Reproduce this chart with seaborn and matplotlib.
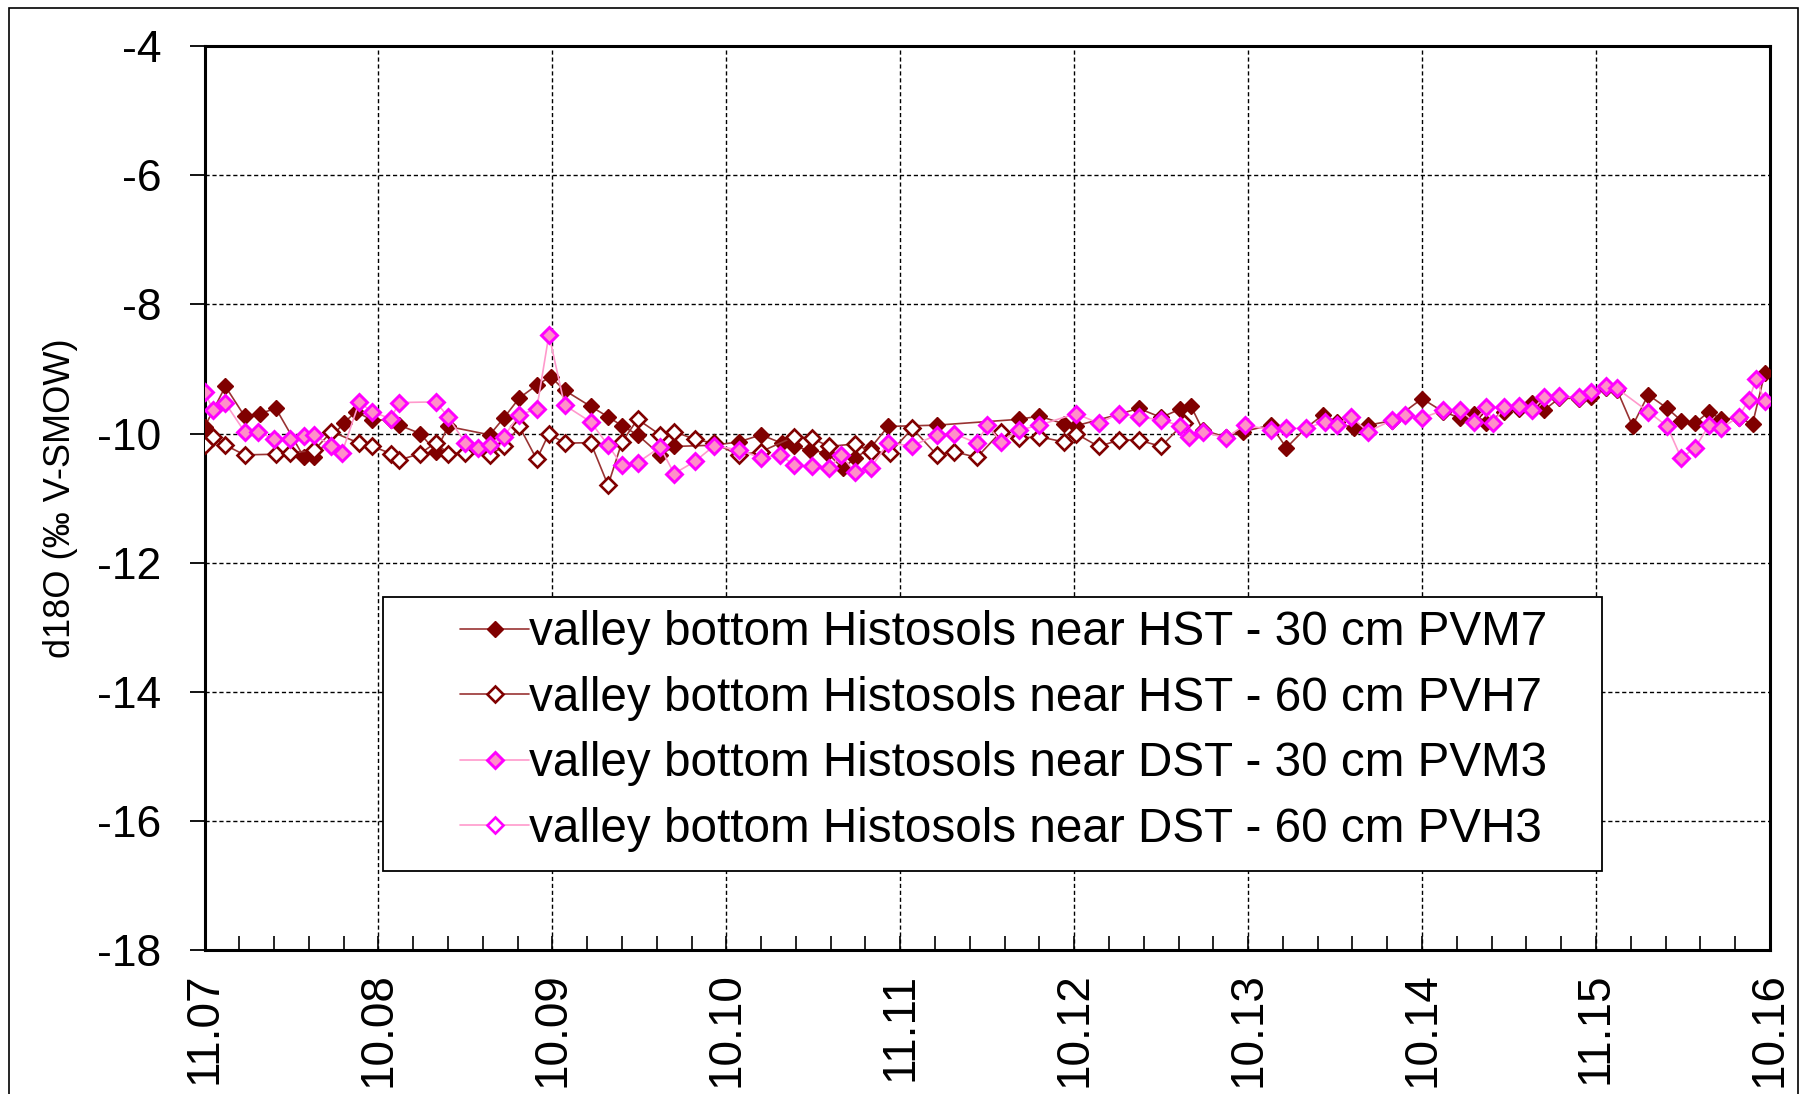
import matplotlib
matplotlib.use("Agg")
import matplotlib.pyplot as plt
import seaborn as sns
from matplotlib.ticker import MultipleLocator, FixedLocator, FixedFormatter
from matplotlib.patches import Rectangle

# Sampling time in years after the first campaign (Nov 2007) and d18O values
t_pvm7 = [0.00, 0.12, 0.23, 0.32, 0.41, 0.57, 0.63, 0.80, 0.87, 0.96, 1.07, 1.12,
          1.24, 1.33, 1.40, 1.64, 1.72, 1.81, 1.91, 1.99, 2.07, 2.22, 2.32, 2.40,
          2.49, 2.62, 2.70, 2.93, 3.07, 3.20, 3.32, 3.39, 3.48, 3.58, 3.67, 3.74,
          3.83, 3.93, 4.21, 4.68, 4.80, 4.94, 5.01, 5.26, 5.37, 5.50, 5.61, 5.67,
          5.74, 5.87, 5.97, 6.13, 6.22, 6.33, 6.43, 6.51, 6.61, 6.69, 6.83, 7.00,
          7.12, 7.22, 7.30, 7.37, 7.47, 7.56, 7.63, 7.70, 7.79, 7.90, 7.97, 8.06,
          8.12, 8.21, 8.30, 8.41, 8.49, 8.57, 8.65, 8.72, 8.82, 8.90, 8.97]
d_pvm7 = [-9.90, -9.27, -9.73, -9.69, -9.61, -10.36, -10.36, -9.84, -9.66, -9.79, -9.79, -9.87,
          -10.00, -10.28, -9.89, -10.02, -9.76, -9.45, -9.25, -9.12, -9.33, -9.58, -9.74, -9.88,
          -10.02, -10.33, -10.20, -10.18, -10.13, -10.02, -10.15, -10.20, -10.26, -10.30, -10.54, -10.38,
          -10.22, -9.89, -9.87, -9.78, -9.73, -9.85, -9.88, -9.70, -9.61, -9.75, -9.62, -9.57,
          -9.95, -10.05, -9.97, -9.87, -10.22, -9.92, -9.71, -9.82, -9.92, -9.87, -9.80, -9.46,
          -9.66, -9.76, -9.69, -9.84, -9.66, -9.62, -9.52, -9.64, -9.45, -9.46, -9.43, -9.30,
          -9.32, -9.88, -9.40, -9.61, -9.80, -9.84, -9.66, -9.78, -9.76, -9.85, -9.07]

t_pvh7 = [0.00, 0.05, 0.12, 0.23, 0.41, 0.49, 0.63, 0.73, 0.89, 0.96, 1.07, 1.12,
          1.24, 1.33, 1.40, 1.50, 1.64, 1.72, 1.81, 1.91, 1.98, 2.07, 2.22, 2.32,
          2.40, 2.49, 2.62, 2.70, 2.82, 2.93, 3.07, 3.20, 3.39, 3.49, 3.59, 3.74,
          3.83, 3.94, 4.07, 4.21, 4.31, 4.44, 4.58, 4.68, 4.80, 4.94, 5.01, 5.14,
          5.26, 5.37, 5.50, 5.63]
d_pvh7 = [-10.18, -10.05, -10.18, -10.33, -10.32, -10.30, -10.26, -9.97, -10.15, -10.19, -10.31, -10.41,
          -10.31, -10.14, -10.31, -10.30, -10.33, -10.20, -9.89, -10.40, -10.00, -10.15, -10.14, -10.80,
          -10.13, -9.78, -10.02, -9.97, -10.09, -10.15, -10.33, -10.28, -10.05, -10.07, -10.20, -10.16,
          -10.28, -10.30, -9.92, -10.33, -10.28, -10.37, -9.97, -10.07, -10.05, -10.13, -10.00, -10.20,
          -10.10, -10.10, -10.20, -9.84]

t_pvm3 = [0.00, 0.05, 0.12, 0.23, 0.31, 0.40, 0.49, 0.57, 0.63, 0.73, 0.79, 0.89,
          0.96, 1.07, 1.12, 1.33, 1.40, 1.50, 1.57, 1.64, 1.72, 1.81, 1.91, 1.98,
          2.07, 2.22, 2.32, 2.40, 2.49, 2.62, 2.70, 2.82, 2.93, 3.07, 3.20, 3.31,
          3.39, 3.49, 3.59, 3.66, 3.74, 3.83, 3.93, 4.07, 4.21, 4.31, 4.44, 4.50,
          4.58, 4.68, 4.80, 5.01, 5.14, 5.26, 5.37, 5.50, 5.61, 5.66, 5.74, 5.87,
          5.98, 6.13, 6.22, 6.33, 6.44, 6.51, 6.59, 6.69, 6.83, 6.90, 7.00, 7.12,
          7.22, 7.30, 7.37, 7.41, 7.47, 7.56, 7.63, 7.70, 7.79, 7.90, 7.97, 8.06,
          8.12, 8.30, 8.41, 8.49, 8.57, 8.65, 8.72, 8.82, 8.88, 8.92, 8.97]
d_pvm3 = [-9.35, -9.64, -9.53, -9.97, -9.97, -10.09, -10.09, -10.04, -10.02, -10.19, -10.30, -9.51,
          -9.66, -9.77, -9.52, -9.51, -9.74, -10.15, -10.23, -10.18, -10.05, -9.71, -9.62, -8.47,
          -9.56, -9.82, -10.18, -10.49, -10.45, -10.21, -10.62, -10.43, -10.19, -10.25, -10.38, -10.33,
          -10.49, -10.51, -10.54, -10.33, -10.60, -10.53, -10.15, -10.19, -10.02, -10.00, -10.15, -9.87,
          -10.13, -9.95, -9.87, -9.69, -9.84, -9.69, -9.74, -9.79, -9.88, -10.05, -9.97, -10.07,
          -9.87, -9.94, -9.92, -9.92, -9.82, -9.87, -9.74, -9.97, -9.79, -9.71, -9.76, -9.64,
          -9.64, -9.82, -9.59, -9.84, -9.59, -9.57, -9.64, -9.44, -9.42, -9.44, -9.35, -9.27,
          -9.30, -9.66, -9.89, -10.38, -10.22, -9.87, -9.92, -9.74, -9.48, -9.16, -9.49]

t_pvh3 = []
d_pvh3 = []

labels = [
    "valley bottom Histosols near HST - 30 cm PVM7",
    "valley bottom Histosols near HST - 60 cm PVH7",
    "valley bottom Histosols near DST - 30 cm PVM3",
    "valley bottom Histosols near DST - 60 cm PVH3",
]

x_tick_labels = ["11.07", "10.08", "10.09", "10.10", "11.11",
                 "10.12", "10.13", "10.14", "11.15", "10.16"]

sns.set_theme(style="white")
plt.rcParams['font.family'] = ['Liberation Sans', 'DejaVu Sans']
plt.rcParams['axes.unicode_minus'] = False
plt.rcParams['text.color'] = 'black'
plt.rcParams['axes.labelcolor'] = 'black'

fig = plt.figure(figsize=(18.02, 10.94), dpi=100)
ax = fig.add_axes([0.1135, 0.1313, 0.8687, 0.8267])
ax.set_facecolor("white")

ms = 8.6
sns.lineplot(x=t_pvm7, y=d_pvm7, ax=ax, sort=False, estimator=None,
             color="#993333", linewidth=1.2, marker="D", markersize=ms,
             markerfacecolor="#800000", markeredgecolor="#800000",
             markeredgewidth=1.0, label=labels[0], zorder=3)
sns.lineplot(x=t_pvh7, y=d_pvh7, ax=ax, sort=False, estimator=None,
             color="#993333", linewidth=1.2, marker="D", markersize=ms,
             markerfacecolor="white", markeredgecolor="#800000",
             markeredgewidth=1.9, label=labels[1], zorder=3)
sns.lineplot(x=t_pvm3, y=d_pvm3, ax=ax, sort=False, estimator=None,
             color="#FF99CC", linewidth=1.2, marker="D", markersize=ms,
             markerfacecolor="#FF8FC8", markeredgecolor="#FF00FF",
             markeredgewidth=2.1, label=labels[2], zorder=3)
ax.plot(t_pvh3, d_pvh3, color="#FF99CC", linewidth=1.2, marker="D", markersize=ms,
        markerfacecolor="white", markeredgecolor="#FF00FF", markeredgewidth=1.9,
        label=labels[3], zorder=3)

ax.set_xlim(0, 9)
ax.set_ylim(-18, -4)
ax.yaxis.set_major_locator(MultipleLocator(2))
ax.xaxis.set_major_locator(FixedLocator(range(len(x_tick_labels))))
ax.xaxis.set_major_formatter(FixedFormatter(x_tick_labels))
ax.xaxis.set_minor_locator(MultipleLocator(0.2))

ax.grid(True, which="major", color="black", linestyle=(0, (3, 2)), linewidth=1.0)
for s in ax.spines.values():
    s.set_color("black")
    s.set_linewidth(2.2)
    s.set_visible(True)

ax.tick_params(axis="y", which="major", direction="out", length=11, width=1.3,
               pad=20, labelsize=32, colors="black", left=True)
ax.tick_params(axis="x", which="both", direction="in", length=10, width=1.2,
               bottom=True, colors="black")
ax.tick_params(axis="x", which="major", pad=16, labelsize=33, labelrotation=90)
for lab in ax.get_xticklabels():
    lab.set_verticalalignment("top")

ax.set_xlabel("")
ax.set_ylabel("d18O (‰ V-SMOW)", fontsize=26, color="black")
ax.yaxis.set_label_coords(-0.081, 0.5)

# Legend box
ax.add_patch(Rectangle((0.1138, 0.0878), 0.7792, 0.3032, transform=ax.transAxes,
                       facecolor="white", edgecolor="black", linewidth=1.3, zorder=4))
handles, labs = ax.get_legend_handles_labels()
leg = ax.legend(handles, labs, loc="upper left", bbox_to_anchor=(0.1632, 0.376),
                frameon=False, fontsize=34.3, handlelength=1.45, handletextpad=0.0,
                labelspacing=0.43, borderpad=0.0, borderaxespad=0.0,
                labelcolor="black")
leg.set_zorder(5)

# Outer frame around the whole figure
fig.patches.append(Rectangle((9 / 1802, -0.1), 1789 / 1802, 1.1 - 8 / 1094,
                             transform=fig.transFigure, fill=False,
                             edgecolor="black", linewidth=1.2))

fig.savefig("out.png", dpi=100, facecolor="white")
